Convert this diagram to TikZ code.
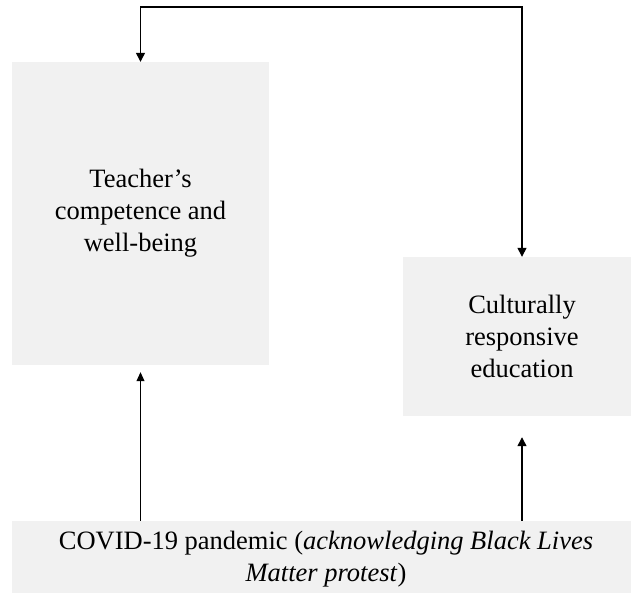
\documentclass[tikz,border=0pt]{standalone}
\usepackage{fontspec}
\setmainfont{Liberation Serif}
\usetikzlibrary{arrows.meta}
\definecolor{boxgray}{RGB}{241,241,241}
\begin{document}
\begin{tikzpicture}[x=1pt,y=-1pt,
  graybox/.style={draw=none,fill=boxgray,inner sep=0pt,align=center,
    font=\fontsize{26.5}{32}\selectfont},
  tip/.style={Triangle[length=9pt,width=9pt]},
  link/.style={line width=1.3pt,-{Triangle[length=9pt,width=9pt]}},
  linkthin/.style={line width=0.9pt,-{Triangle[length=9pt,width=8pt]}}]
\useasboundingbox (0,0) rectangle (631,592);
\node[graybox,minimum width=257pt,minimum height=303pt] (L) at (140.5,213.5)
  {Teacher’s\\competence and\\well-being};
\node[graybox,minimum width=238pt,minimum height=159pt] (R) at (522,336.5)
  {Culturally\\responsive\\education};
\node[graybox,minimum width=628pt,minimum height=76pt] (B) at (326,559)
  {COVID-19 pandemic (\textit{acknowledging Black Lives}\\\textit{Matter protest})};
\coordinate (top) at (0,7);
\draw[line width=1.3pt,{Triangle[length=9pt,width=9pt]}-{Triangle[length=9pt,width=9pt]}]
  (L.north) -- (L.north |- top) -- (R.north |- top) -- (R.north);
\draw[linkthin,shorten >=7pt] (B.north -| L.south) -- (L.south);
\draw[link,shorten >=21pt] (B.north -| R.south) -- (R.south);
\end{tikzpicture}
\end{document}
